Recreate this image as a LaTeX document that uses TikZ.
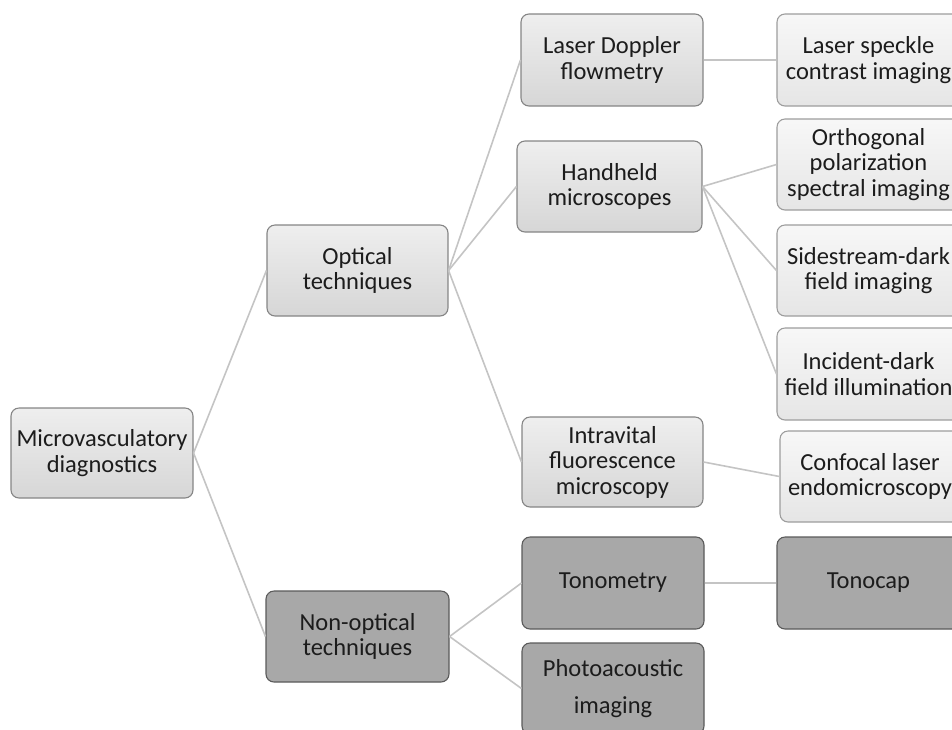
\documentclass[tikz,border=0pt]{standalone}
\usepackage{fontspec}
\setmainfont{Carlito}
\definecolor{lbord}{HTML}{858585}
\definecolor{dbord}{HTML}{5A5A5A}
\definecolor{conncol}{HTML}{C4C4C4}
\definecolor{txt}{HTML}{1C1C1C}
\definecolor{darkfill}{HTML}{A8A8A8}
\tikzset{
  boxbase/.style={rectangle, rounded corners=8pt, line width=1.1pt, inner sep=0pt, align=center, text=txt, font=\fontsize{24.5}{25.5}\selectfont},
  lightbox/.style={boxbase, draw=lbord, top color=gray!13, bottom color=gray!32},
  paleboxx/.style={boxbase, draw=lbord!80, top color=gray!6, bottom color=gray!20},
  darkbox/.style={boxbase, draw=dbord, fill=darkfill},
  widespaced/.style={font=\fontsize{24.5}{37}\selectfont},
  conn/.style={draw=conncol, line width=1.6pt}
}
\newcommand\bx[7]{\node[#6, minimum width={(#4-#2)*1pt}, minimum height={(#5-#3)*1pt}] (#1) at ({(#2+#4)/2},{(#3+#5)/2}) {#7};}
\begin{document}
\begin{tikzpicture}[x=1pt,y=-1pt]
\useasboundingbox (0,0) rectangle (952,729);
\bx{root}{11}{408}{193}{498}{lightbox}{Microvasculatory\\diagnostics}
\bx{opt}{267}{225}{448}{316}{lightbox}{Optical\\techniques}
\bx{nonopt}{266}{591}{449}{682}{darkbox}{Non-optical\\techniques}
\bx{ldf}{521}{14}{703}{106}{lightbox}{Laser Doppler\\flowmetry}
\bx{hh}{517}{141}{702}{232}{lightbox}{Handheld\\microscopes}
\bx{ivm}{522}{417}{703}{507}{lightbox}{Intravital\\fluorescence\\microscopy}
\bx{lsci}{777}{14}{960}{106}{paleboxx}{Laser speckle\\contrast imaging}
\bx{ops}{777}{119}{960}{210}{paleboxx}{Orthogonal\\polarization\\spectral imaging}
\bx{sdf}{777}{225}{960}{316}{paleboxx}{Sidestream-dark\\field imaging}
\bx{idf}{777}{328}{960}{420}{paleboxx}{Incident-dark\\field illumination}
\bx{cle}{780}{431}{960}{522}{paleboxx}{Confocal laser\\endomicroscopy}
\bx{tono}{522}{537}{704}{629}{darkbox}{Tonometry}
\bx{tcap}{777}{537}{960}{629}{darkbox}{Tonocap}
\bx{pai}{522}{643}{704}{734}{darkbox, widespaced}{Photoacoustic\\imaging}
\draw[conn] (root.east) -- (opt.west);
\draw[conn] (root.east) -- (nonopt.west);
\draw[conn] (opt.east) -- (ldf.west);
\draw[conn] (opt.east) -- (hh.west);
\draw[conn] (opt.east) -- (ivm.west);
\draw[conn] (ldf.east) -- (lsci.west);
\draw[conn] (hh.east) -- (ops.west);
\draw[conn] (hh.east) -- (sdf.west);
\draw[conn] (hh.east) -- (idf.west);
\draw[conn] (ivm.east) -- (cle.west);
\draw[conn] (nonopt.east) -- (tono.west);
\draw[conn] (nonopt.east) -- (pai.west);
\draw[conn] (tono.east) -- (tcap.west);
\end{tikzpicture}
\end{document}
